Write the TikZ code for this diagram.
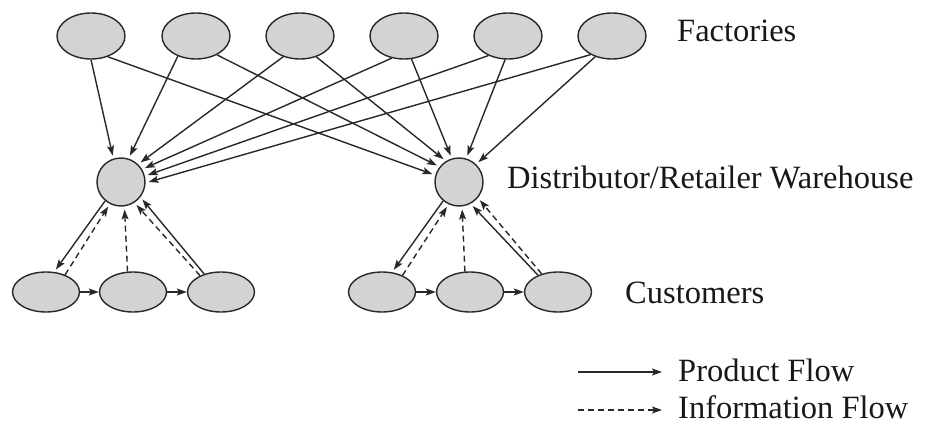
\documentclass[tikz,border=0pt]{standalone}
\usepackage{fontspec}
\setmainfont{Liberation Serif}
\usetikzlibrary{arrows.meta,shapes.geometric}
\definecolor{nodefill}{RGB}{210,211,213}
\definecolor{ink}{RGB}{40,40,40}
\definecolor{txt}{RGB}{25,23,25}
\tikzset{
  fac/.style={ellipse, draw=ink, fill=nodefill, line width=1.4pt, minimum width=68pt, minimum height=46pt, inner sep=0pt},
  cust/.style={ellipse, draw=ink, fill=nodefill, line width=1.4pt, minimum width=67pt, minimum height=40pt, inner sep=0pt},
  wh/.style={circle, draw=ink, fill=nodefill, line width=1.4pt, minimum size=48pt, inner sep=0pt},
  prodflow/.style={draw=ink, line width=1.4pt, -{Stealth[length=10pt,width=7pt,inset=2pt]}},
  infoflow/.style={prodflow, dash pattern=on 6pt off 4pt},
  lbl/.style={anchor=base west, inner sep=0pt, text=txt, font=\fontsize{32.5}{38}\selectfont}
}
\begin{document}
\begin{tikzpicture}[x=1pt,y=-1pt]
\useasboundingbox (0,0) rectangle (925,425);
% factories
\node[fac] (F1) at (91,36) {};
\node[fac] (F2) at (196,36) {};
\node[fac] (F3) at (300,36) {};
\node[fac] (F4) at (404,36) {};
\node[fac] (F5) at (508,36) {};
\node[fac] (F6) at (612,36) {};
% warehouses
\node[wh] (W1) at (121,182) {};
\node[wh] (W2) at (459,182) {};
% customers
\node[cust] (A1) at (46,292) {};
\node[cust] (A2) at (133,292) {};
\node[cust] (A3) at (221,292) {};
\node[cust] (B1) at (382,292) {};
\node[cust] (B2) at (470,292) {};
\node[cust] (B3) at (558,292) {};
% labels
\node[lbl] (lf) at (677,42) {Factories};
\node[lbl] (lw) at (507,188) {Distributor/Retailer Warehouse};
\node[lbl] (lc) at (625,303) {Customers};
\node[lbl] (lp) at (678,381) {Product Flow};
\node[lbl] (li) at (678,418) {Information Flow};
% factory -> warehouse 1
\begin{scope}[shorten >=3pt]
\draw[prodflow] (F1.270) -- (W1.108);
\draw[prodflow] (F2.228) -- (W1.72);
\draw[prodflow] (F3.231) -- (W1.46);
\draw[prodflow] (F4.241) -- (W1.31);
\draw[prodflow] (F5.225) -- (W1.14);
\draw[prodflow] (F6.221) -- (W1.358);
% factory -> warehouse 2
\draw[prodflow] (F1.309) -- (W2.164);
\draw[prodflow] (F2.318) -- (W2.142);
\draw[prodflow] (F3.308) -- (W2.122);
\draw[prodflow] (F4.288) -- (W2.107);
\draw[prodflow] (F5.263) -- (W2.73);
\draw[prodflow] (F6.231) -- (W2.46);
% warehouse 1 <-> customers
\draw[prodflow] (W1.230) -- (A1.68);
\draw[infoflow] (A1.42) -- (W1.243);
\draw[infoflow] (A2.105) -- (W1.278);
\draw[infoflow] (A3.142) -- (W1.303);
\draw[prodflow] (A3.133) -- (W1.322);
% warehouse 2 <-> customers
\draw[prodflow] (W2.230) -- (B1.63);
\draw[infoflow] (B1.39) -- (W2.245);
\draw[infoflow] (B2.104) -- (W2.277);
\draw[prodflow] (B3.140) -- (W2.298);
\draw[infoflow] (B3.132) -- (W2.320);
\end{scope}
% customer chains
\draw[prodflow] (A1.east) -- (A2.west);
\draw[prodflow] (A2.east) -- (A3.west);
\draw[prodflow] (B1.east) -- (B2.west);
\draw[prodflow] (B2.east) -- (B3.west);
% legend
\coordinate (pa) at (578,372);
\coordinate (pb) at (662,372);
\coordinate (ia) at (578,410);
\coordinate (ib) at (662,410);
\draw[prodflow] (pa) -- (pb);
\draw[infoflow] (ia) -- (ib);
\end{tikzpicture}
\end{document}
